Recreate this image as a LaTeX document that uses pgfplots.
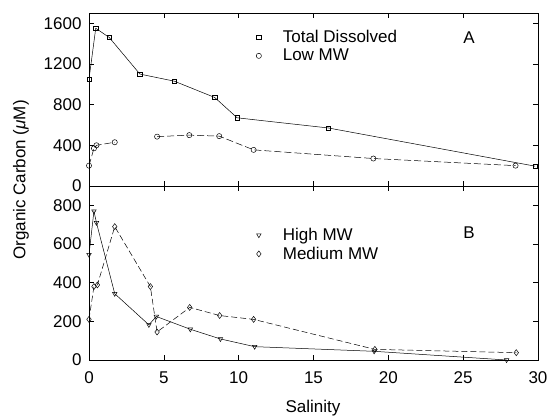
\documentclass[border=0pt]{standalone}
\usepackage{pgfplots}
\pgfplotsset{compat=1.18}
\usepackage{fontspec}
\setmainfont{Liberation Sans}
\pgfplotsset{
  lgimg/.style={legend image code/.code={\draw[##1, /tikz/only marks, mark repeat=2, mark phase=2] plot coordinates {(0pt,0pt) (8pt,0pt) (30pt,0pt)}; \path[draw=none, fill=none] (0pt,-3pt) rectangle (30pt,3pt);}},
}
\begin{document}
\begin{tikzpicture}
\pgfplotsset{
  panel/.style={
    scale only axis, width=449pt, xmin=0, xmax=30,
    xtick={0,5,...,30},
    tick label style={font=\fontsize{17}{17}\selectfont},
    /pgf/number format/assume math mode=true,
    /pgf/number format/1000 sep={},
    axis line style={line width=0.6pt},
    major tick length=5pt,
    tick style={black, line width=0.5pt},
    tick align=inside,
    xticklabel style={yshift=-8pt},
    yticklabel style={xshift=-4pt},
    every axis plot/.append style={black, line width=0.5pt, mark size=2.6pt, mark options={solid, fill=white}},
    legend cell align=left,
    legend style={draw=none, fill=none, font=\fontsize{17}{19}\selectfont, inner sep=0pt, row sep=1pt},
  },
}
\begin{axis}[panel, at={(89pt,231pt)}, anchor=south west, height=173pt,
  ymin=0, ymax=1700, ytick={0,400,800,1200,1600}, xticklabels={},
  legend style={at={(0.36,0.912)}, anchor=north west}]
\addlegendimage{lgimg, black, mark=square, mark size=2.2pt, mark options={solid}}
\addlegendentry{Total Dissolved}
\addlegendimage{lgimg, black, mark=o, mark size=2.6pt, mark options={solid}}
\addlegendentry{Low MW}
% Total Dissolved
\addplot[mark=square, mark size=2.2pt] coordinates {
(0,1050) (0.45,1550) (1.35,1460) (3.4,1100) (5.7,1030) (8.4,870) (9.9,670) (16,570) (29.8,195)};
% Low MW
\addplot[mark=o, dash pattern=on 7pt off 3pt, unbounded coords=jump] coordinates {
(0,200) (0.33,370) (0.5,400) (1.72,430) (3,nan) (4.55,485) (6.7,500) (8.7,490) (11,355) (19,270) (28.5,200)};
\node[font=\fontsize{17}{17}\selectfont] at (axis cs:25.4,1455) {A};
\end{axis}
\begin{axis}[panel, at={(89pt,57pt)}, anchor=south west, height=174pt,
  ymin=0, ymax=900, ytick={0,200,400,600,800},
  legend style={at={(0.36,0.77)}, anchor=north west}]
\addlegendimage{lgimg, black, mark=triangle, mark size=2.6pt, mark options={solid, rotate=180}}
\addlegendentry{High MW}
\addlegendimage{lgimg, black, mark=diamond, mark size=3pt, mark options={solid}}
\addlegendentry{Medium MW}
% High MW
\addplot[mark=triangle, mark options={rotate=180}] coordinates {
(0,545) (0.33,770) (0.5,710) (1.72,343) (4.0,182) (4.5,225) (6.77,159) (8.78,109) (11.07,69) (19.05,45) (27.9,0)};
% Medium MW
\addplot[mark=diamond, mark size=3pt, dash pattern=on 6pt off 3pt] coordinates {
(0,210) (0.33,380) (0.56,388) (1.72,690) (4.1,380) (4.55,145) (6.73,272) (8.73,230) (11,210) (19.1,55) (28.55,38)};
\node[font=\fontsize{17}{17}\selectfont] at (axis cs:25.4,660) {B};
\end{axis}
\node[rotate=90, font=\fontsize{17}{17}\selectfont] at (21pt,237pt) {Organic Carbon ({\itshape μ}M)};
\node[anchor=base, font=\fontsize{17}{17}\selectfont] at (313pt,5pt) {Salinity};
\path[use as bounding box] (0pt,0pt) rectangle (552pt,417pt);
\end{tikzpicture}
\end{document}
